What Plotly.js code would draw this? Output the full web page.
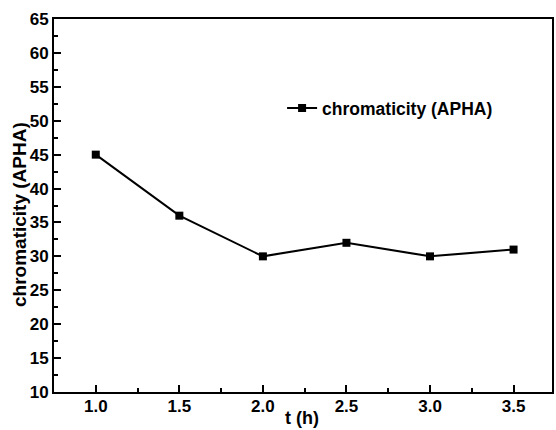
<!DOCTYPE html>
<html><head><meta charset="utf-8">
<script src="https://cdn.plot.ly/plotly-3.0.1.min.js"></script>
<style>body{margin:0;padding:0;background:#fff}#c{width:556px;height:430px}</style>
</head><body><div id="c"></div>
<script>
const timeH = [1.0, 1.5, 2.0, 2.5, 3.0, 3.5];
const chromaticity = [45, 36, 30, 32, 30, 31];
const xTickVals = [1.0, 1.5, 2.0, 2.5, 3.0, 3.5];
const xTickText = ['1.0', '1.5', '2.0', '2.5', '3.0', '3.5'];
const yTickVals = [10, 15, 20, 25, 30, 35, 40, 45, 50, 55, 60, 65];
const seriesName = 'chromaticity (APHA)';
const xTitle = 't (h)';
const yTitle = 'chromaticity (APHA)';

const fontFam = 'Liberation Sans, Arial, sans-serif';
const b = s => '<b>' + s + '</b>';
const trace = {
  x: timeH, y: chromaticity, name: b(seriesName), type: 'scatter', mode: 'lines+markers',
  line: {color: '#000', width: 2},
  marker: {symbol: 'square', size: 8, color: '#000'}
};
const layout = {
  width: 556, height: 430,
  margin: {l: 54, r: 4, t: 19, b: 38},
  paper_bgcolor: '#fff', plot_bgcolor: '#fff',
  font: {family: fontFam, size: 17, color: '#000'},
  showlegend: true,
  legend: {x: 0.458, y: 0.761, xanchor: 'left', yanchor: 'middle', bgcolor: 'rgba(0,0,0,0)',
           font: {family: fontFam, size: 17.5, color: '#000'}},
  xaxis: {
    range: [0.75, 3.73], tickvals: xTickVals, ticktext: xTickText.map(b),
    ticks: 'inside', ticklen: 7, tickwidth: 2, tickcolor: '#000',
    minor: {ticks: 'inside', ticklen: 4, tickwidth: 2, tickcolor: '#000', tickvals: [1.25, 1.75, 2.25, 2.75, 3.25]},
    showline: true, linewidth: 2, linecolor: '#000', mirror: true,
    showgrid: false, zeroline: false, ticklabelstandoff: -2,
    tickfont: {family: fontFam, size: 17, color: '#000', weight: 'bold'}
  },
  yaxis: {
    range: [10, 65], tickvals: yTickVals, ticktext: yTickVals.map(v => b(String(v))),
    ticks: 'inside', ticklen: 7, tickwidth: 2, tickcolor: '#000',
    minor: {ticks: 'inside', ticklen: 4, tickwidth: 2, tickcolor: '#000', dtick: 2.5},
    showline: true, linewidth: 2, linecolor: '#000', mirror: true,
    showgrid: false, zeroline: false,
    tickfont: {family: fontFam, size: 17, color: '#000', weight: 'bold'}
  },
  annotations: [{
    text: b(yTitle), xref: 'paper', yref: 'paper', x: -0.068, y: 0.475,
    xanchor: 'center', yanchor: 'middle', textangle: -90, showarrow: false,
    font: {family: fontFam, size: 19, color: '#000'}
  }, {
    text: b(xTitle), xref: 'paper', yref: 'paper', x: 0.497, y: -0.102,
    xanchor: 'center', yanchor: 'bottom', showarrow: false,
    font: {family: fontFam, size: 18, color: '#000'}
  }]
};
Plotly.newPlot('c', [trace], layout, {displayModeBar: false, staticPlot: true});
</script></body></html>
